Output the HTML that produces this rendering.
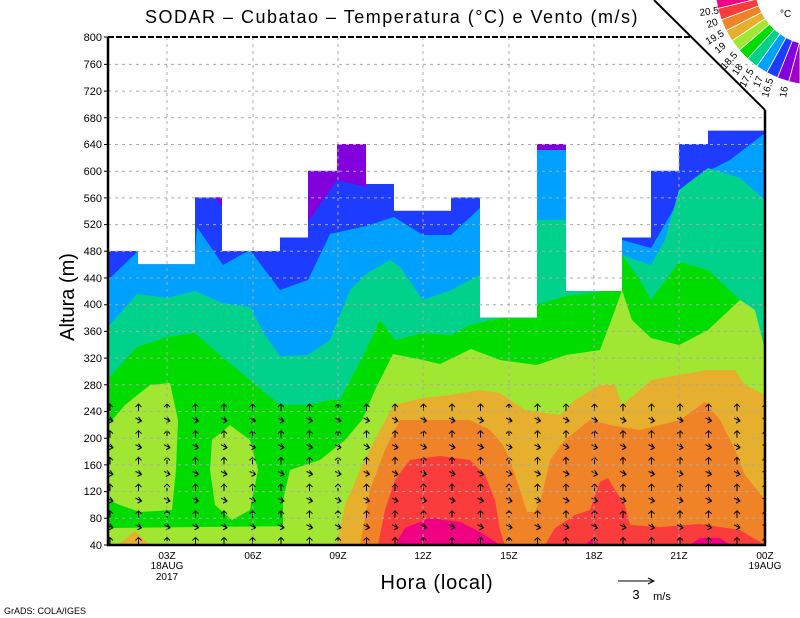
<!DOCTYPE html>
<html><head><meta charset="utf-8"><style>
html,body{margin:0;padding:0;background:#fff;}
svg{display:block;font-family:"Liberation Sans",sans-serif;}
</style></head><body>
<svg width="800" height="618" viewBox="0 0 800 618" xmlns="http://www.w3.org/2000/svg">
<defs>
<clipPath id="dc"><path d="M108,545 V251 H138 V264.3 H195 V197.4 H222 V251 H280 V237.5 H308 V170.7 H337 V144 H366 V184 H394 V210.8 H451 V197.4 H480 V317.7 H537 V144 H566 V291 H622 V237.5 H651 V170.7 H679 V144 H708 V130.6 H765 V545 Z"/></clipPath>
<pattern id="wp" patternUnits="userSpaceOnUse" x="104" y="400" width="28.5" height="26.7">
<g stroke="#000" stroke-width="1" fill="none">
<path d="M6,4 L6,11 M3,7 L6,4 L9,7"/>
<path d="M3,18 L9,21 M6,17 L9,21 L5,23"/>
</g>
</pattern>
</defs>
<g clip-path="url(#dc)">
<rect x="108" y="120" width="657" height="425" fill="#1e3cff"/>
<path d="M308,171 L337,171 L337,144 L366,144 L366,187 L337,180 L308,222 Z" fill="#8200dc"/>
<path d="M214,197 L222,197 L222,206 Z" fill="#8200dc"/>
<path d="M537,140 L566,140 L566,152 L537,152 Z" fill="#8200dc"/>
<path d="M108,280 L137,252 L195,252 L197,227 L223,265 L250,250 L280,290 L308,280 L330,234 L366,226 L394,217 L423,235 L451,235 L480,208 L510,200 L537,150 L566,150 L600,240 L622,240 L651,248 L679,200 L700,175 L730,160 L765,133 L765,545 L108,545 Z" fill="#00a0ff"/>
<path d="M108,327 L137,294 L167,298 L195,291 L222,303 L250,307 L265,335 L280,356 L308,355 L330,340 L350,290 L366,274 L390,260 L400,267 L423,300 L451,290 L480,275 L510,270 L537,220 L566,220 L600,260 L622,255 L651,265 L665,240 L679,190 L708,168 L740,178 L765,200 L765,545 L108,545 Z" fill="#00d28c"/>
<path d="M108,379 L137,347 L167,337 L195,333 L222,357 L250,380 L280,405 L308,405 L330,400 L340,400 L367,348 L380,320 L395,340 L423,333 L451,335 L470,325 L500,318 L537,305 L566,296 L600,292 L622,255 L640,280 L651,300 L679,262 L708,270 L740,300 L765,355 L765,545 L108,545 Z" fill="#00dc00"/>
<path d="M283,500 L290,470 L320,460 L345,440 L362,420 L375,390 L393,354 L423,360 L440,364 L471,349 L500,360 L537,365 L566,355 L600,350 L615,310 L622,290 L632,320 L651,338 L679,345 L708,330 L740,300 L755,310 L765,350 L765,545 L283,545 Z" fill="#a0e632"/>
<path d="M108,425 L125,405 L150,385 L170,383 L178,420 L176,470 L172,510 L140,512 L120,505 L108,500 Z" fill="#a0e632"/>
<path d="M212,440 L230,425 L250,440 L258,470 L250,510 L232,520 L215,505 L210,470 Z" fill="#a0e632"/>
<path d="M108,528 L300,526 L300,545 L108,545 Z" fill="#a0e632"/>
<path d="M118,545 L135,531 L150,545 Z" fill="#e6af2d"/>
<path d="M337,545 L345,505 L360,470 L380,430 L394,405 L423,398 L451,395 L480,390 L500,393 L525,410 L560,415 L575,400 L600,385 L615,385 L622,405 L640,390 L651,380 L679,375 L708,370 L735,370 L745,385 L765,395 L765,545 Z" fill="#e6af2d"/>
<path d="M360,545 L370,490 L385,450 L400,420 L440,420 L470,420 L490,430 L503,445 L510,460 L520,490 L527,512 L535,512 L542,495 L550,460 L565,440 L590,420 L610,425 L640,430 L660,425 L680,420 L705,402 L720,420 L735,450 L745,475 L765,500 L765,545 Z" fill="#f08228"/>
<path d="M378,545 L385,510 L395,480 L410,460 L440,456 L470,460 L485,475 L495,500 L500,530 L505,545 Z" fill="#fa3c3c"/>
<path d="M545,545 L555,528 L575,515 L590,510 L600,482 L608,478 L615,490 L625,505 L630,525 L660,527 L700,524 L740,530 L765,545 Z" fill="#fa3c3c"/>
<path d="M395,545 L405,528 L430,518 L460,522 L480,532 L500,545 Z" fill="#f00082"/>
<path d="M690,545 L700,538 L720,538 L730,545 Z" fill="#f00082"/>
<path d="M585,545 L592,539 L600,545 Z" fill="#f00082"/>
<rect x="100" y="400" width="670" height="146" fill="url(#wp)"/>
</g>
<g stroke="#aaa" stroke-width="1" stroke-dasharray="3,4">
<path d="M108,64.4H765 M108,91.1H765 M108,117.8H765 M108,144.5H765 M108,171.2H765 M108,197.9H765 M108,224.6H765 M108,251.3H765 M108,278H765 M108,304.7H765 M108,331.4H765 M108,358.1H765 M108,384.8H765 M108,411.5H765 M108,438.2H765 M108,464.9H765 M108,491.6H765 M108,518.3H765"/>
<path d="M167,37V545 M253,37V545 M338,37V545 M423,37V545 M509,37V545 M594,37V545 M679,37V545"/>
</g>
<path d="M108,37 H692" stroke="#000" stroke-width="2" stroke-dasharray="6,2"/>
<path d="M108,37 V545 H765 V110" stroke="#000" stroke-width="2.5" fill="none"/>
<path d="M654,0 L765,110" stroke="#000" stroke-width="2"/>
<g stroke="#000" stroke-width="1"><path d="M104,37H108 M104,64.4H108 M104,91.1H108 M104,117.8H108 M104,144.5H108 M104,171.2H108 M104,197.9H108 M104,224.6H108 M104,251.3H108 M104,278H108 M104,304.7H108 M104,331.4H108 M104,358.1H108 M104,384.8H108 M104,411.5H108 M104,438.2H108 M104,464.9H108 M104,491.6H108 M104,518.3H108 M104,545H108"/></g>
<g font-size="11" text-anchor="end" fill="#000">
<text x="102" y="41">800</text><text x="102" y="68">760</text><text x="102" y="95">720</text><text x="102" y="122">680</text><text x="102" y="148">640</text><text x="102" y="175">600</text><text x="102" y="202">560</text><text x="102" y="228">520</text><text x="102" y="255">480</text><text x="102" y="282">440</text><text x="102" y="308">400</text><text x="102" y="335">360</text><text x="102" y="362">320</text><text x="102" y="389">280</text><text x="102" y="415">240</text><text x="102" y="442">200</text><text x="102" y="469">160</text><text x="102" y="495">120</text><text x="102" y="522">80</text><text x="102" y="549">40</text>
</g>
<g font-size="10" text-anchor="middle" fill="#000">
<text x="167" y="559">03Z</text><text x="167" y="569">18AUG</text><text x="167" y="580">2017</text>
<text x="253" y="559">06Z</text><text x="338" y="559">09Z</text><text x="423" y="559">12Z</text><text x="509" y="559">15Z</text><text x="594" y="559">18Z</text><text x="679" y="559">21Z</text>
<text x="765" y="559">00Z</text><text x="765" y="569">19AUG</text>
</g>
<text x="392" y="23" font-size="18" letter-spacing="1.5" text-anchor="middle">SODAR – Cubatao – Temperatura (°C) e Vento (m/s)</text>
<text x="437" y="589" font-size="20" letter-spacing="0.8" text-anchor="middle">Hora (local)</text>
<text transform="translate(74,297) rotate(-90)" font-size="20" text-anchor="middle">Altura (m)</text>
<path d="M618,581 H654 M648,578 L654,581 L648,584" stroke="#000" fill="none"/>
<text x="636" y="599" font-size="13" text-anchor="middle">3</text>
<text x="662" y="600" font-size="11" text-anchor="middle">m/s</text>
<text x="4" y="614" font-size="9">GrADS: COLA/IGES</text>
<g stroke="#fff" stroke-width="0.8">
<path d="M715,-15 L715.7,-3.2 L755.4,-7.9 L755,-15 Z" fill="#f00082"/>
<path d="M715.7,-3.2 L717.8,8.5 L756.7,-0.9 L755.4,-7.9 Z" fill="#f00082"/>
<path d="M717.8,8.5 L721.3,19.9 L758.8,5.9 L756.7,-0.9 Z" fill="#fa3c3c"/>
<path d="M721.3,19.9 L726.1,30.7 L761.6,12.4 L758.8,5.9 Z" fill="#f08228"/>
<path d="M726.1,30.7 L732.1,40.9 L765.3,18.6 L761.6,12.4 Z" fill="#e6af2d"/>
<path d="M732.1,40.9 L739.3,50.3 L769.6,24.2 L765.3,18.6 Z" fill="#a0e632"/>
<path d="M739.3,50.3 L747.6,58.9 L774.5,29.3 L769.6,24.2 Z" fill="#00dc00"/>
<path d="M747.6,58.9 L756.8,66.3 L780.1,33.8 L774.5,29.3 Z" fill="#00d28c"/>
<path d="M756.8,66.3 L766.8,72.6 L786.1,37.6 L780.1,33.8 Z" fill="#00a0ff"/>
<path d="M766.8,72.6 L777.5,77.7 L792.5,40.6 L786.1,37.6 Z" fill="#1e3cff"/>
<path d="M777.5,77.7 L788.8,81.5 L799.3,42.9 L792.5,40.6 Z" fill="#8200dc"/>
<path d="M788.8,81.5 L800,84 L800,44 L799.3,42.9 Z" fill="#a000c8"/>
</g>
<g font-size="10" fill="#000">
<text x="780" y="17">°C</text>
<text transform="translate(700,16) rotate(-8)">20.5</text>
<text transform="translate(708,28) rotate(-18)">20</text>
<text transform="translate(708,45) rotate(-30)">19.5</text>
<text transform="translate(718,54) rotate(-40)">19</text>
<text transform="translate(725,70) rotate(-48)">18.5</text>
<text transform="translate(737,76) rotate(-56)">18</text>
<text transform="translate(745,88) rotate(-62)">17.5</text>
<text transform="translate(759,88) rotate(-68)">17</text>
<text transform="translate(768,98) rotate(-74)">16.5</text>
<text transform="translate(786,98) rotate(-80)">16</text>
</g>
</svg>
</body></html>
